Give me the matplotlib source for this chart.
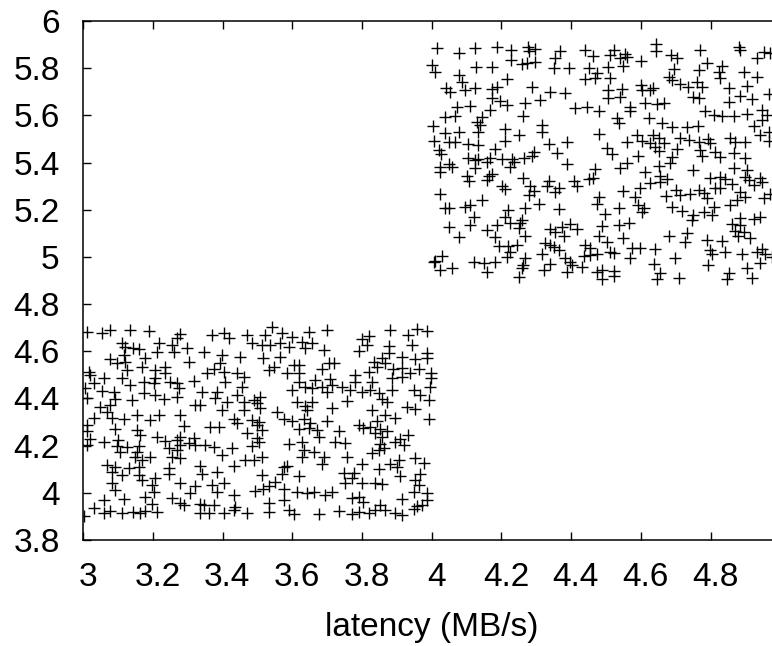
import matplotlib
matplotlib.use("Agg")
import matplotlib.pyplot as plt
from matplotlib.transforms import ScaledTranslation

plt.rcParams["font.family"] = ["Liberation Sans", "DejaVu Sans"]

# lower cluster (x < 4)
lower_x = [
    3.011, 3.054, 3.078, 3.135, 3.188, 3.369, 3.403, 3.417, 3.470, 3.484, 3.278, 3.269,
    3.111, 3.120, 3.144, 3.159, 3.216, 3.211, 3.255, 3.260, 3.298, 3.345, 3.398, 3.451, 3.116,
    3.078, 3.097, 3.120, 3.178, 3.125, 3.168, 3.207, 3.235, 3.302, 3.393, 3.374, 3.355, 3.403, 3.441, 3.460,
    3.015, 3.020, 3.058, 3.111, 3.235, 3.207,
    3.030, 3.135, 3.173, 3.202, 3.250, 3.269, 3.317, 3.408, 3.455, 3.006, 3.054, 3.087, 3.173, 3.207,
    3.274, 3.341, 3.384, 3.441, 3.011, 3.092, 3.140, 3.231, 3.269, 3.379, 3.412, 3.460, 3.489, 3.498,
    3.049, 3.078, 3.068, 3.082, 3.321, 3.336, 3.398, 3.460, 3.154, 3.216, 3.278, 3.030, 3.116, 3.192, 3.432, 3.484,
    3.011, 3.288, 3.365, 3.388, 3.441, 3.498, 3.092, 3.154, 3.011, 3.470,
    3.164, 3.211, 3.278, 3.317, 3.020, 3.058, 3.101, 3.235, 3.269, 3.498,
    3.011, 3.097, 3.125, 3.159, 3.245, 3.278, 3.302, 3.321, 3.350, 3.374, 3.427, 3.484,
    3.106, 3.154, 3.269, 3.149, 3.192, 3.255, 3.278, 3.398, 3.465, 3.489, 3.168,
    3.068, 3.092, 3.130, 3.159, 3.245, 3.336, 3.432, 3.082, 3.245, 3.341, 3.384, 3.111, 3.159, 3.207, 3.168,
    3.082, 3.197, 3.278, 3.321, 3.369, 3.403, 3.092, 3.202, 3.307, 3.384, 3.494, 3.178,
    3.432, 3.058, 3.116, 3.255, 3.278, 3.288, 3.336, 3.345, 3.374, 3.436, 3.197,
    3.030, 3.058, 3.078, 3.111, 3.144, 3.164, 3.178, 3.211, 3.336, 3.360, 3.403, 3.432, 3.470, 3.001,
    3.541, 3.522, 3.570, 3.599, 3.647, 3.699, 3.881, 3.933, 3.957, 3.986,
    3.513, 3.537, 3.565, 3.589, 3.627, 3.637, 3.656, 3.690, 3.800, 3.819, 3.814, 3.790, 3.876, 3.943, 3.876, 3.986,
    3.517, 3.565, 3.604, 3.618, 3.704, 3.718, 3.833, 3.857, 3.914, 3.953, 3.986,
    3.532, 3.546, 3.584, 3.618, 3.685, 3.819, 3.843, 3.867, 3.890, 3.914, 3.938, 3.962, 3.997,
    3.618, 3.666, 3.709, 3.780, 3.780, 3.828, 3.886, 3.914, 3.997,
    3.599, 3.637, 3.656, 3.685, 3.699, 3.714, 3.742, 3.766, 3.800, 3.824, 3.848, 3.886, 3.948, 3.967, 3.996,
    3.508, 3.508, 3.613, 3.637, 3.656, 3.642, 3.714, 3.757, 3.857, 3.871, 3.929, 3.953, 3.991, 3.828,
    3.556, 3.867, 3.895, 3.575, 3.599, 3.632, 3.651, 3.699, 3.843, 3.991, 3.503,
    3.513, 3.618, 3.647, 3.670, 3.733, 3.790, 3.804, 3.824, 3.838, 3.852, 3.871,
    3.503, 3.675, 3.857, 3.933, 3.910, 3.589, 3.627, 3.723, 3.752, 3.852, 3.895, 3.919,
    3.632, 3.661, 3.627, 3.690, 3.757, 3.828, 3.848, 3.862, 3.513,
    3.685, 3.800, 3.881, 3.905, 3.953, 3.977, 3.575, 3.584, 3.848, 3.900,
    3.513, 3.570, 3.618, 3.747, 3.776, 3.771, 3.752, 3.800, 3.838, 3.857, 3.910, 3.967, 3.953, 3.962, 3.532, 3.551,
    3.517, 3.575, 3.613, 3.642, 3.661, 3.694, 3.714, 3.948, 3.986,
    3.575, 3.532, 3.771, 3.790, 3.804, 3.914, 3.986, 3.972,
    3.532, 3.589, 3.604, 3.675, 3.733, 3.771, 3.790, 3.819, 3.838, 3.867, 3.895, 3.914, 3.948, 3.957, 3.852,
]
lower_y = [
    4.683, 4.676, 4.690, 4.690, 4.686, 4.669, 4.676, 4.655, 4.669, 4.636, 4.673, 4.655,
    4.636, 4.620, 4.612, 4.608, 4.636, 4.598, 4.627, 4.598, 4.612, 4.598, 4.584, 4.577, 4.584,
    4.566, 4.552, 4.556, 4.570, 4.521, 4.535, 4.521, 4.535, 4.556, 4.552, 4.523, 4.506, 4.514, 4.509, 4.492,
    4.514, 4.499, 4.485, 4.485, 4.506, 4.485,
    4.464, 4.457, 4.471, 4.464, 4.471, 4.464, 4.474, 4.471, 4.450, 4.443, 4.433, 4.429, 4.422, 4.415,
    4.443, 4.429, 4.429, 4.415, 4.401, 4.396, 4.393, 4.398, 4.408, 4.401, 4.386, 4.386, 4.393, 4.379,
    4.362, 4.372, 4.344, 4.316, 4.372, 4.372, 4.351, 4.351, 4.330, 4.330, 4.330, 4.316, 4.312, 4.309, 4.312, 4.309,
    4.288, 4.283, 4.280, 4.280, 4.295, 4.288, 4.269, 4.266, 4.264, 4.255,
    4.245, 4.238, 4.238, 4.231, 4.227, 4.217, 4.224, 4.221, 4.224, 4.231,
    4.203, 4.199, 4.196, 4.199, 4.189, 4.203, 4.210, 4.203, 4.203, 4.196, 4.192, 4.199,
    4.175, 4.175, 4.182, 4.153, 4.153, 4.153, 4.146, 4.160, 4.139, 4.139, 4.139,
    4.118, 4.111, 4.104, 4.111, 4.104, 4.115, 4.114, 4.090, 4.080, 4.080, 4.090, 4.076, 4.076, 4.062, 4.055,
    4.040, 4.033, 4.040, 4.029, 4.033, 4.040, 4.012, 4.005, 4.001, 4.005, 4.009, 3.984,
    3.991, 3.970, 3.974, 3.977, 3.958, 3.949, 3.953, 3.949, 3.949, 3.939, 3.951,
    3.934, 3.913, 3.925, 3.916, 3.920, 3.916, 3.925, 3.920, 3.913, 3.913, 3.916, 3.927, 3.916, 3.902,
    4.704, 4.669, 4.676, 4.662, 4.683, 4.690, 4.690, 4.669, 4.693, 4.687,
    4.627, 4.627, 4.634, 4.620, 4.641, 4.612, 4.636, 4.605, 4.651, 4.665, 4.627, 4.602, 4.622, 4.627, 4.591, 4.591,
    4.570, 4.577, 4.542, 4.542, 4.552, 4.552, 4.556, 4.570, 4.577, 4.566, 4.570,
    4.521, 4.535, 4.506, 4.506, 4.523, 4.514, 4.535, 4.549, 4.523, 4.528, 4.506, 4.523, 4.509,
    4.471, 4.478, 4.481, 4.499, 4.471, 4.471, 4.485, 4.490, 4.485,
    4.436, 4.450, 4.443, 4.450, 4.429, 4.457, 4.450, 4.436, 4.429, 4.436, 4.425, 4.436, 4.436, 4.415, 4.450,
    4.408, 4.358, 4.386, 4.368, 4.386, 4.351, 4.358, 4.389, 4.396, 4.386, 4.362, 4.354, 4.393, 4.351,
    4.344, 4.330, 4.316, 4.312, 4.306, 4.312, 4.295, 4.306, 4.306, 4.312, 4.302,
    4.266, 4.269, 4.273, 4.266, 4.264, 4.288, 4.273, 4.278, 4.255, 4.269, 4.264,
    4.217, 4.238, 4.238, 4.245, 4.227, 4.207, 4.217, 4.217, 4.210, 4.207, 4.217, 4.203,
    4.182, 4.175, 4.153, 4.153, 4.150, 4.170, 4.182, 4.189, 4.150,
    4.122, 4.122, 4.122, 4.139, 4.146, 4.128, 4.111, 4.114, 4.100, 4.111,
    4.076, 4.080, 4.071, 4.083, 4.083, 4.062, 4.043, 4.043, 4.043, 4.038, 4.071, 4.080, 4.054, 4.033, 4.029, 4.047,
    4.015, 4.015, 4.005, 3.998, 4.005, 3.991, 4.005, 4.005, 4.001,
    3.970, 3.956, 3.977, 3.984, 3.963, 3.972, 3.970, 3.949,
    3.920, 3.927, 3.910, 3.910, 3.925, 3.910, 3.920, 3.916, 3.927, 3.927, 3.916, 3.906, 3.930, 3.942, 3.949,
]

# upper cluster (x >= 4)
upper_x = [
    4.015, 4.077, 4.125, 4.187, 4.228, 4.276, 4.278, 4.297, 4.369, 4.440, 4.464,
    4.002, 4.010, 4.077, 4.086, 4.127, 4.173, 4.228, 4.259, 4.273, 4.297, 4.350, 4.354, 4.395, 4.450, 4.474, 4.440, 4.469, 4.216,
    4.041, 4.053, 4.096, 4.125, 4.173, 4.187, 4.287, 4.340, 4.383, 4.173, 4.197, 4.216, 4.268, 4.311,
    4.072, 4.110, 4.168, 4.412, 4.445, 4.479, 4.039, 4.067, 4.144, 4.130, 4.263, 4.003,
    4.039, 4.077, 4.139, 4.134, 4.211, 4.249, 4.316, 4.316, 4.479, 4.005, 4.048, 4.067, 4.104, 4.134, 4.211, 4.335, 4.388,
    4.020, 4.027, 4.182, 4.292, 4.359, 4.104, 4.134, 4.168, 4.201, 4.230, 4.264, 4.287,
    4.522, 4.512, 4.541, 4.555, 4.560, 4.549, 4.505, 4.600, 4.644, 4.644, 4.686, 4.705, 4.770, 4.790, 4.883, 4.885, 4.933, 4.952, 4.971,
    4.512, 4.694, 4.680, 4.689, 4.713, 4.734, 4.766, 4.761, 4.775, 4.833, 4.823, 4.828, 4.852, 4.895, 4.933, 4.904,
    4.600, 4.603, 4.627, 4.636, 4.546, 4.507, 4.507, 4.541, 4.751, 4.766, 4.885, 4.919, 4.967,
    4.568, 4.568, 4.613, 4.646, 4.665, 4.852, 4.785, 4.809, 4.833, 4.866, 4.904, 4.947, 4.962,
    4.531, 4.536, 4.622, 4.660, 4.689, 4.732, 4.763, 4.947, 4.924, 4.967, 4.943,
    4.589, 4.560, 4.603, 4.627, 4.636, 4.651, 4.665, 4.641, 4.713, 4.737, 4.766, 4.794, 4.799, 4.856, 4.871, 4.900, 4.967,
    4.503, 4.517, 4.593, 4.651, 4.703, 4.770, 4.775, 4.813, 4.828, 4.866, 4.689, 4.900,
    4.024, 4.024, 4.048, 4.058, 4.125, 4.125, 4.158, 4.235, 4.225, 4.388, 4.469,
    4.101, 4.106, 4.158, 4.163, 4.173, 4.263, 4.201, 4.211, 4.283, 4.292, 4.278, 4.331, 4.335, 4.364, 4.354, 4.407, 4.417, 4.450, 4.464,
    4.024, 4.039, 4.048, 4.096, 4.110, 4.144, 4.220, 4.211, 4.268, 4.307, 4.364, 4.479, 4.474, 4.120,
    4.048, 4.110, 4.077, 4.158, 4.187, 4.225, 4.254, 4.259, 4.249, 4.268, 4.182, 4.340, 4.354, 4.373, 4.397, 4.417, 4.378, 4.479, 4.488,
    4.192, 4.220, 4.244, 4.225, 4.216, 4.268, 4.326, 4.340, 4.350, 4.364, 4.316, 4.383, 4.397, 4.440, 4.455, 4.436, 4.455, 4.474,
    4.029, 4.005, 4.010, 4.120, 4.149, 4.182, 4.263, 4.259, 4.340, 4.402, 4.431, 4.024, 4.058, 4.158, 4.321, 4.388, 4.474, 4.488, 4.249, 4.488,
    4.684, 4.541, 4.560, 4.613, 4.651, 4.751, 4.866, 4.904, 4.656, 4.675, 4.627, 4.656, 4.799, 4.828, 4.842, 4.861, 4.900, 4.909, 4.943, 4.947, 4.924, 4.813, 4.828,
    4.598, 4.550, 4.584, 4.702, 4.713, 4.742, 4.766, 4.780, 4.790, 4.673, 4.885, 4.900, 4.876, 4.952, 4.971,
    4.593, 4.608, 4.603, 4.536, 4.689, 4.718, 4.809, 4.856, 4.780, 4.804, 4.751, 4.747, 4.498,
    4.536, 4.565, 4.885, 4.924, 4.943, 4.861, 4.885, 4.871, 4.895, 4.880, 4.680, 4.732, 4.727, 4.790, 4.833, 4.914, 4.550, 4.503,
    4.574, 4.598, 4.641, 4.512, 4.522, 4.799, 4.804, 4.842, 4.890, 4.933, 4.947, 4.957, 4.976, 4.570, 4.699, 4.943, 4.637, 4.794, 4.904,
    4.522, 4.522, 4.656, 4.646, 4.708, 4.852, 4.847, 4.919,
]
upper_y = [
    5.887, 5.863, 5.884, 5.891, 5.877, 5.891, 5.873, 5.881, 5.873, 5.877, 5.853,
    5.813, 5.785, 5.771, 5.743, 5.804, 5.804, 5.835, 5.816, 5.821, 5.828, 5.799, 5.842, 5.799, 5.799, 5.778, 5.754, 5.757, 5.754,
    5.717, 5.701, 5.708, 5.715, 5.712, 5.722, 5.722, 5.701, 5.693, 5.675, 5.661, 5.644, 5.651, 5.665,
    5.637, 5.640, 5.623, 5.630, 5.637, 5.618, 5.594, 5.599, 5.594, 5.570, 5.597, 5.556,
    5.527, 5.531, 5.559, 5.531, 5.541, 5.517, 5.559, 5.531, 5.520, 5.491, 5.486, 5.486, 5.477, 5.474, 5.491, 5.477, 5.489,
    5.453, 5.435, 5.457, 5.446, 5.439, 5.421, 5.415, 5.418, 5.415, 5.415, 5.418, 5.429,
    5.877, 5.856, 5.842, 5.859, 5.849, 5.811, 5.806, 5.830, 5.901, 5.873, 5.856, 5.845, 5.877, 5.821, 5.891, 5.877, 5.842, 5.867, 5.863,
    5.760, 5.797, 5.764, 5.750, 5.731, 5.722, 5.792, 5.743, 5.722, 5.811, 5.782, 5.757, 5.717, 5.782, 5.764, 5.726,
    5.729, 5.708, 5.708, 5.717, 5.712, 5.708, 5.672, 5.679, 5.679, 5.675, 5.683, 5.669, 5.689,
    5.637, 5.618, 5.651, 5.647, 5.651, 5.658, 5.618, 5.601, 5.599, 5.597, 5.604, 5.623, 5.601,
    5.587, 5.566, 5.587, 5.566, 5.552, 5.552, 5.556, 5.580, 5.556, 5.531, 5.517,
    5.517, 5.489, 5.491, 5.481, 5.517, 5.503, 5.481, 5.467, 5.503, 5.496, 5.486, 5.500, 5.481, 5.503, 5.486, 5.486, 5.491,
    5.460, 5.435, 5.429, 5.449, 5.457, 5.453, 5.429, 5.446, 5.425, 5.439, 5.425, 5.418,
    5.383, 5.361, 5.392, 5.383, 5.411, 5.375, 5.404, 5.404, 5.383, 5.392, 5.373,
    5.344, 5.322, 5.326, 5.344, 5.350, 5.336, 5.302, 5.288, 5.302, 5.279, 5.262, 5.302, 5.322, 5.294, 5.277, 5.322, 5.302, 5.330, 5.336,
    5.265, 5.209, 5.206, 5.213, 5.220, 5.241, 5.199, 5.171, 5.209, 5.223, 5.203, 5.255, 5.223, 5.171,
    5.128, 5.135, 5.086, 5.114, 5.135, 5.142, 5.142, 5.156, 5.121, 5.089, 5.086, 5.118, 5.104, 5.128, 5.138, 5.118, 5.090, 5.089, 5.132,
    5.048, 5.048, 5.050, 5.022, 5.001, 4.994, 5.058, 5.050, 5.043, 5.029, 5.011, 4.994, 4.977, 5.050, 5.039, 5.005, 5.008, 5.011,
    5.005, 4.977, 4.983, 4.980, 4.973, 4.980, 4.966, 4.952, 4.969, 4.966, 4.959, 4.944, 4.952, 4.935, 4.945, 4.937, 4.935, 4.945, 4.916, 4.906,
    5.397, 5.378, 5.397, 5.361, 5.387, 5.368, 5.375, 5.368, 5.344, 5.330, 5.312, 5.316, 5.336, 5.340, 5.330, 5.308, 5.340, 5.326, 5.333, 5.316, 5.305, 5.291, 5.294,
    5.291, 5.279, 5.255, 5.284, 5.262, 5.265, 5.284, 5.270, 5.248, 5.260, 5.277, 5.255, 5.241, 5.251, 5.265,
    5.220, 5.209, 5.189, 5.209, 5.213, 5.195, 5.213, 5.220, 5.189, 5.178, 5.178, 5.156, 5.181,
    5.135, 5.142, 5.164, 5.161, 5.171, 5.138, 5.135, 5.110, 5.104, 5.090, 5.090, 5.100, 5.062, 5.072, 5.068, 5.079, 5.079, 5.062,
    5.036, 5.036, 5.034, 5.019, 5.015, 5.029, 5.011, 5.022, 5.011, 5.019, 5.034, 5.011, 5.001, 4.994, 4.994, 4.973, 4.969, 4.966, 4.955,
    4.940, 4.921, 4.930, 4.906, 4.909, 4.930, 4.906, 4.912,
]

x_ticks = [3, 3.2, 3.4, 3.6, 3.8, 4, 4.2, 4.4, 4.6, 4.8]
y_ticks = [3.8, 4, 4.2, 4.4, 4.6, 4.8, 5, 5.2, 5.4, 5.6, 5.8, 6]

fig = plt.figure(figsize=(7.72, 6.46), dpi=100)
# the right edge of the plot (x = 5) falls just past the image border
ax = fig.add_axes([0.1079, 0.1641, 0.9028, 0.8034])

ax.plot(lower_x, lower_y, "+", color="black", ms=8, mew=1.0)
ax.plot(upper_x, upper_y, "+", color="black", ms=8, mew=1.0)

ax.set_xlim(3, 5)
ax.set_ylim(3.8, 6)
ax.set_xticks(x_ticks)
ax.set_xticklabels([f"{v:g}" for v in x_ticks])
ax.set_yticks(y_ticks)
ax.set_yticklabels([f"{v:g}" for v in y_ticks])

for s in ax.spines.values():
    s.set_linewidth(1.1)
ax.tick_params(direction="in", top=True, right=True, length=6, width=1.0,
               labelsize=24)
ax.tick_params(axis="x", pad=15.5)
ax.tick_params(axis="y", pad=17)

# x labels sit a few pixels right of their ticks in the original
shift = ScaledTranslation(4.5 / 100, 0, fig.dpi_scale_trans)
for lbl in ax.get_xticklabels():
    lbl.set_transform(lbl.get_transform() + shift)

ax.set_xlabel("latency (MB/s)", fontsize=24, labelpad=14)

fig.savefig("out.png", dpi=100)
